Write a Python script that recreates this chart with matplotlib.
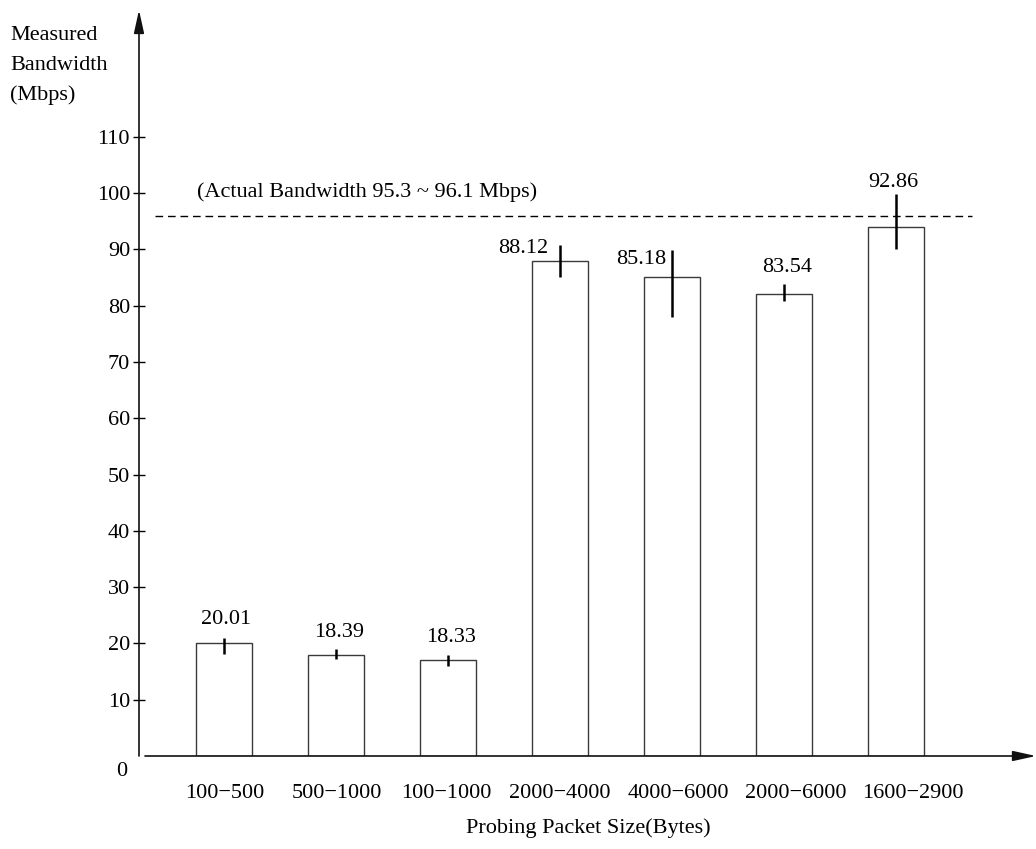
import matplotlib
matplotlib.use("Agg")
import matplotlib.pyplot as plt

# ---- data ----
categories = ["100\u2212500", "500\u22121000", "100\u22121000", "2000\u22124000",
              "4000\u22126000", "2000\u22126000", "1600\u22122900"]
bar_values = [20, 18, 17, 88, 85, 82, 94]
err_low = [18.1, 17.2, 16.0, 85.0, 78.0, 80.9, 90.0]
err_high = [21.0, 19.0, 17.9, 90.8, 89.9, 83.8, 99.8]
value_labels = ["20.01", "18.39", "18.33", "88.12", "85.18", "83.54", "92.86"]
actual_bw = 96.0
yticks = [10, 20, 30, 40, 50, 60, 70, 80, 90, 100, 110]

# ---- styling / layout constants ----
W, H = 1036, 849
FS = 16
FONT = "Liberation Serif"
label_offsets = [(2, 18), (3, 17), (3, 18), (-37, -4), (-31, -10), (3, 17), (-3, 12)]
xlabel_dx = [1, 1, -2, 0, 6, 12, 17]

plt.rcParams["font.family"] = [FONT, "DejaVu Serif"]
fig = plt.figure(figsize=(W / 100, H / 100), dpi=100)

ax_left, ax_right, ax_bottom, ax_top = 139, 1036, 756, 10
ax = fig.add_axes([ax_left / W, (H - ax_bottom) / H,
                   (ax_right - ax_left) / W, (ax_bottom - ax_top) / H])
px_per_cat = 112.0
c0 = 224.0
ax.set_xlim((ax_left - c0) / px_per_cat, (ax_right - c0) / px_per_cat)
px_per_unit = 5.63
ax.set_ylim(0, (ax_bottom - ax_top) / px_per_unit)
for s in ax.spines.values():
    s.set_visible(False)

x = list(range(len(categories)))
ax.bar(x, bar_values, width=0.5, facecolor="white", edgecolor="#3a3a3a",
       linewidth=1.0, zorder=2)
lower = [v - l for v, l in zip(bar_values, err_low)]
upper = [h - v for v, h in zip(bar_values, err_high)]
ax.errorbar(x, bar_values, yerr=[lower, upper], fmt="none", ecolor="black",
            elinewidth=1.8, capsize=0, zorder=3)

for i, lab in enumerate(value_labels):
    ax.annotate(lab, xy=(i, err_high[i]), xytext=label_offsets[i],
                textcoords="offset pixels", ha="center", va="center",
                fontsize=FS, family=FONT)

# dashed reference line
ax.plot([(ax_left + 16 - c0) / px_per_cat, (972 - c0) / px_per_cat],
        [actual_bw, actual_bw], linestyle=(0, (5.5, 3.5)), color="black",
        linewidth=1.0, zorder=1)
ax.annotate("(Actual Bandwidth 95.3 ~ 96.1 Mbps)",
            xy=((197 - c0) / px_per_cat, actual_bw), xytext=(0, 23),
            textcoords="offset pixels", ha="left", va="center",
            fontsize=FS, family=FONT)

# axes with arrows
ax.annotate("", xy=(1.0, 0), xycoords=("axes fraction", "data"),
            xytext=(6 / (ax_right - ax_left), 0),
            textcoords=("axes fraction", "data"),
            arrowprops=dict(arrowstyle="-|>,head_length=1.0,head_width=0.22",
                            mutation_scale=14, color="#111111", lw=1.2,
                            shrinkA=0, shrinkB=0), annotation_clip=False)
ax.annotate("", xy=(0, 1.0), xycoords="axes fraction",
            xytext=(0, 0), textcoords="axes fraction",
            arrowprops=dict(arrowstyle="-|>,head_length=1.0,head_width=0.22",
                            mutation_scale=14, color="#111111", lw=1.2,
                            shrinkA=0, shrinkB=0), annotation_clip=False)

# y ticks
ax.set_yticks(yticks)
ax.set_yticklabels([str(t) for t in yticks], fontsize=FS, family=FONT)
ax.tick_params(axis="y", direction="inout", length=12 / 1.389, width=1.0,
               pad=3 / 1.389, colors="black")
ax.annotate("0", xy=(0, 0), xycoords=("axes fraction", "data"),
            xytext=(-17, -16), textcoords="offset pixels", ha="center",
            va="center", fontsize=FS, family=FONT)

# x labels
ax.set_xticks([])
for i, cat in enumerate(categories):
    ax.annotate(cat, xy=(i, 0), xytext=(xlabel_dx[i], -37),
                textcoords="offset pixels", ha="center", va="center",
                fontsize=FS, family=FONT, annotation_clip=False)

fig.text(588 / W, 1 - 828 / H, "Probing Packet Size(Bytes)", ha="center",
         va="center", fontsize=FS, family=FONT)
for j, line in enumerate(["Measured", "Bandwidth", "(Mbps)"]):
    fig.text(10 / W, 1 - (35 + 30 * j) / H, line, ha="left", va="center",
             fontsize=FS, family=FONT)

fig.savefig("out.png", dpi=100)
